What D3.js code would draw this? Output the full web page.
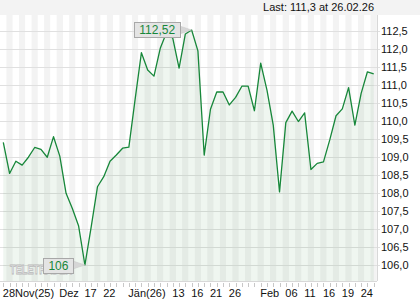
<!DOCTYPE html>
<html>
<head>
<meta charset="utf-8">
<script src="https://cdn.jsdelivr.net/npm/d3@7"></script>
<style>
  body { margin: 0; background: #fff; }
  svg { display: block; font-family: "Liberation Sans", Arial, sans-serif; }
</style>
</head>
<body>
<svg id="chart"></svg>
<script>
// trading days shown on the x axis
var dates = [
  "2025-11-28",
  "2025-12-01", "2025-12-02", "2025-12-03", "2025-12-04", "2025-12-05",
  "2025-12-08", "2025-12-09", "2025-12-10", "2025-12-11", "2025-12-12",
  "2025-12-15", "2025-12-16", "2025-12-17", "2025-12-18", "2025-12-19",
  "2025-12-22", "2025-12-23", "2025-12-29", "2025-12-30",
  "2026-01-02",
  "2026-01-05", "2026-01-06", "2026-01-07", "2026-01-08", "2026-01-09",
  "2026-01-12", "2026-01-13", "2026-01-14", "2026-01-15", "2026-01-16",
  "2026-01-19", "2026-01-20", "2026-01-21", "2026-01-22", "2026-01-23",
  "2026-01-26", "2026-01-27", "2026-01-28", "2026-01-29", "2026-01-30",
  "2026-02-02", "2026-02-03", "2026-02-04", "2026-02-05", "2026-02-06",
  "2026-02-09", "2026-02-10", "2026-02-11", "2026-02-12", "2026-02-13",
  "2026-02-16", "2026-02-17", "2026-02-18", "2026-02-19", "2026-02-20",
  "2026-02-23", "2026-02-24", "2026-02-25", "2026-02-26"
];

// closing prices
var prices = [
  109.40, 108.54, 108.88, 108.77, 108.99, 109.26, 109.21, 108.99, 109.56, 109.02,
  107.99, 107.57, 107.08, 106.00, 107.06, 108.17, 108.45, 108.88, 109.05, 109.24,
  109.27, 110.60, 111.89, 111.41, 111.24, 112.01, 112.45, 112.29, 111.46, 112.41,
  112.52, 111.94, 109.05, 110.32, 110.80, 110.80, 110.44, 110.65, 110.96, 110.96,
  110.28, 111.60, 110.85, 109.88, 108.03, 109.95, 110.27, 109.98, 110.22, 108.65,
  108.82, 108.86, 109.47, 110.14, 110.33, 110.92, 109.88, 110.76, 111.36, 111.30
];

// x axis labels (date -> text)
var xLabelDates = ["2025-11-28", "2025-12-11", "2025-12-17", "2025-12-22", "2026-01-02", "2026-01-13",
  "2026-01-16", "2026-01-21", "2026-01-26", "2026-02-02", "2026-02-06", "2026-02-11",
  "2026-02-16", "2026-02-19", "2026-02-24"];
var xLabelTexts = ["28Nov(25)", "Dez", "17", "22", "Jän(26)", "13",
  "16", "21", "26", "Feb", "06", "11",
  "16", "19", "24"];

var yTicks = [106.0, 106.5, 107.0, 107.5, 108.0, 108.5, 109.0, 109.5, 110.0, 110.5, 111.0, 111.5, 112.0, 112.5];

var lastText = "Last: 111,3 at 26.02.26";

const W = 420, H = 300;
const plot = { left: 0, right: 377, top: 15, bottom: 281 };

var de = d3.formatLocale({ decimal: ",", thousands: ".", grouping: [3], currency: ["", " €"] });
var fmt1 = de.format(".1f");
var fmt2 = de.format(".2f");

var svg = d3.select("#chart").attr("width", W).attr("height", H);

var x = d3.scaleLinear().domain([0, dates.length - 1]).range([3.3, 373.7]);
var y = d3.scaleLinear().domain([106, 112.5]).range([265, 30.7]);
var step = x(1) - x(0);

// top strip
svg.append("rect").attr("x", 0).attr("y", 0).attr("width", W).attr("height", plot.top).attr("fill", "#f3f3f3");

// vertical stripes, one per day
svg.append("g").selectAll("rect")
  .data(dates)
  .enter().append("rect")
  .attr("x", (d, i) => Math.max(plot.left, x(i) - step / 2))
  .attr("y", plot.top)
  .attr("width", (d, i) => Math.min(plot.right, x(i) + step / 2) - Math.max(plot.left, x(i) - step / 2))
  .attr("height", plot.bottom - plot.top)
  .attr("fill", (d, i) => i % 2 ? "#f3f3f3" : "#ffffff");

// horizontal grid
svg.append("g").selectAll("line")
  .data(yTicks)
  .enter().append("line")
  .attr("x1", plot.left).attr("x2", plot.right + 3)
  .attr("y1", d => Math.round(y(d)) + 0.5).attr("y2", d => Math.round(y(d)) + 0.5)
  .attr("stroke", "#e0e0e0").attr("stroke-width", 1);

// area + line
var area = d3.area()
  .x((d, i) => x(i))
  .y0(plot.bottom)
  .y1(d => y(d));
var line = d3.line()
  .x((d, i) => x(i))
  .y(d => y(d));

svg.append("path").datum(prices)
  .attr("d", area)
  .attr("fill", "#2f8a3c").attr("fill-opacity", 0.08);

// watermark
svg.append("text")
  .attr("x", 10).attr("y", 274)
  .attr("font-size", 12).attr("font-weight", "bold")
  .attr("textLength", 62).attr("lengthAdjust", "spacingAndGlyphs")
  .attr("fill", "#f7f7f7")
  .attr("stroke", "#b8b8b8").attr("stroke-width", 0.8)
  .text("TELETRADER");

svg.append("path").datum(prices)
  .attr("d", line)
  .attr("fill", "none").attr("stroke", "#17873a").attr("stroke-width", 1.3)
  .attr("stroke-linejoin", "round");

// borders
svg.append("line").attr("x1", plot.left).attr("x2", plot.right)
  .attr("y1", plot.bottom + 0.5).attr("y2", plot.bottom + 0.5).attr("stroke", "#d8d8d8");
svg.append("line").attr("x1", plot.right + 0.5).attr("x2", plot.right + 0.5)
  .attr("y1", plot.top).attr("y2", plot.bottom).attr("stroke", "#d8d8d8");

// x ticks
svg.append("g").selectAll("line")
  .data(dates)
  .enter().append("line")
  .attr("x1", (d, i) => Math.round(x(i)) + 0.5).attr("x2", (d, i) => Math.round(x(i)) + 0.5)
  .attr("y1", plot.bottom + 2).attr("y2", plot.bottom + 6)
  .attr("stroke", "#c8c8c8");

// x labels
svg.append("g").selectAll("text")
  .data(xLabelDates)
  .enter().append("text")
  .attr("x", d => x(dates.indexOf(d)) - 0.5)
  .attr("y", 297)
  .attr("font-size", 11).attr("fill", "#111")
  .text((d, i) => xLabelTexts[i]);

// y labels
svg.append("g").selectAll("text")
  .data(yTicks)
  .enter().append("text")
  .attr("x", 381)
  .attr("y", d => y(d) + 4)
  .attr("font-size", 11).attr("fill", "#111")
  .text(d => fmt1(d));

// last value
svg.append("text")
  .attr("x", 374).attr("y", 11)
  .attr("text-anchor", "end")
  .attr("font-size", 11).attr("fill", "#111")
  .text(lastText);

// min / max callouts
function callout(i, label) {
  var px = x(i), py = y(prices[i]);
  var g = svg.append("g");
  var t = g.append("text")
    .attr("font-size", 12).attr("fill", "#17873a")
    .attr("text-anchor", "middle")
    .text(label);
  var tw = t.node().getComputedTextLength();
  var bw = tw + 10, bh = 15;
  var bx = px - 12 - bw, by = py - bh / 2;
  g.insert("path", "text")
    .attr("d", `M${bx + bw},${py - 4}L${px},${py}L${bx + bw},${py + 4}Z`)
    .attr("fill", "#d6d6d6").attr("stroke", "#c8c8c8").attr("stroke-width", 0.5);
  g.insert("rect", "text")
    .attr("x", Math.round(bx) + 0.5).attr("y", Math.round(by) + 0.5)
    .attr("width", Math.round(bw)).attr("height", bh)
    .attr("fill", "#e4e4e4").attr("stroke", "#a8a8a8");
  t.attr("x", bx + bw / 2 + 0.5).attr("y", by + 12);
}

var iMax = d3.maxIndex(prices), iMin = d3.minIndex(prices);
callout(iMax, fmt2(prices[iMax]));
callout(iMin, de.format("")(prices[iMin]));
</script>
</body>
</html>
